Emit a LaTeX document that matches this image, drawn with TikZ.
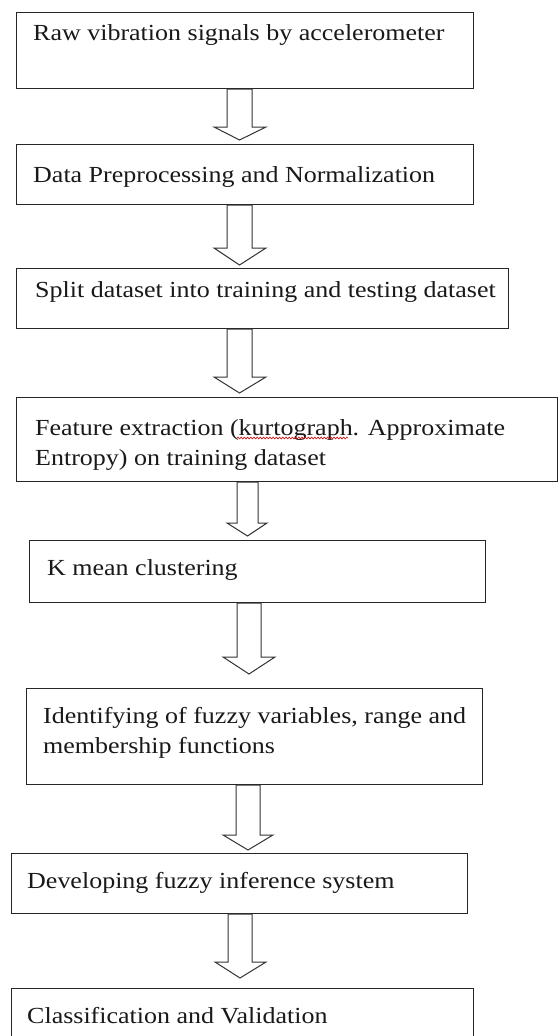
\documentclass[tikz,border=0pt]{standalone}
\usepackage{fontspec}
\setmainfont[FakeStretch=1.13]{Liberation Serif}
\usetikzlibrary{decorations.pathmorphing}
\begin{document}
\begin{tikzpicture}[x=1pt,y=-1pt,
  stepbox/.style={draw=black!85,line width=1pt,rectangle,inner sep=0pt,anchor=north west},
  lbl/.style={anchor=base west,inner sep=0pt,align=left,font=\fontsize{23}{30}\selectfont,text=black!90},
  blk/.style={draw=black!80,line width=1pt,fill=white,line join=miter}]
\clip (0,0) rectangle (558,1036);
\fill[white] (0,0) rectangle (558,1036);
% boxes
\node[stepbox,minimum width=457pt,minimum height=76pt] (b1) at (16,12) {};
\node[stepbox,minimum width=457pt,minimum height=60pt] (b2) at (16,144) {};
\node[stepbox,minimum width=492pt,minimum height=60pt] (b3) at (16,268) {};
\node[stepbox,minimum width=541pt,minimum height=84pt] (b4) at (16,397) {};
\node[stepbox,minimum width=456pt,minimum height=62pt] (b5) at (29,540) {};
\node[stepbox,minimum width=456pt,minimum height=96pt] (b6) at (26,688) {};
\node[stepbox,minimum width=456pt,minimum height=60pt] (b7) at (11,853) {};
\node[stepbox,minimum width=462pt,minimum height=70pt] (b8) at (11,988) {};
% texts (multi-line nodes: base is the last line)
\node[lbl] (t1) at (33,40) {Raw vibration signals by accelerometer};
\node[lbl] (t2) at (33,182) {Data Preprocessing and Normalization};
\node[lbl] (t3) at (35,297) {Split dataset into training and testing dataset};
\node[lbl] (t4) at (35,465) {Feature extraction (kurtograph. Approximate\\Entropy) on training dataset};
\node[lbl] (t5) at (47,575) {K mean clustering};
\node[lbl] (t6) at (43,753) {Identifying of fuzzy variables, range and\\membership functions};
\node[lbl] (t7) at (27,888) {Developing fuzzy inference system};
\node[lbl] (t8) at (27,1023) {Classification and Validation};
% arrows
\newcommand\blockarrow[8]{%
  \draw[blk] (#3,0 |- #1.south) -- (#3,#7) -- (#5,#7) -- ({(#3+#4)/2},#8)
    -- (#6,#7) -- (#4,#7) -- (#4,0 |- #1.south) -- cycle;}
\blockarrow{b1}{b2}{227}{252}{214}{266}{127}{140}
\blockarrow{b2}{b3}{227}{252}{214}{266}{248}{265}
\blockarrow{b3}{b4}{227}{252}{214}{266}{377}{393}
\blockarrow{b4}{b5}{237}{258}{227}{267}{523}{536}
\blockarrow{b5}{b6}{237}{261}{223}{275}{657}{674}
\blockarrow{b6}{b7}{236}{260}{223}{273}{835}{850}
\blockarrow{b7}{b8}{228}{252}{215}{266}{962}{978}
% spell-check underline
\draw[red!85!black,line width=0.6pt,decorate,decoration={snake,amplitude=0.9pt,segment length=3.2pt}] (237,438) -- (348,438);
\end{tikzpicture}
\end{document}
